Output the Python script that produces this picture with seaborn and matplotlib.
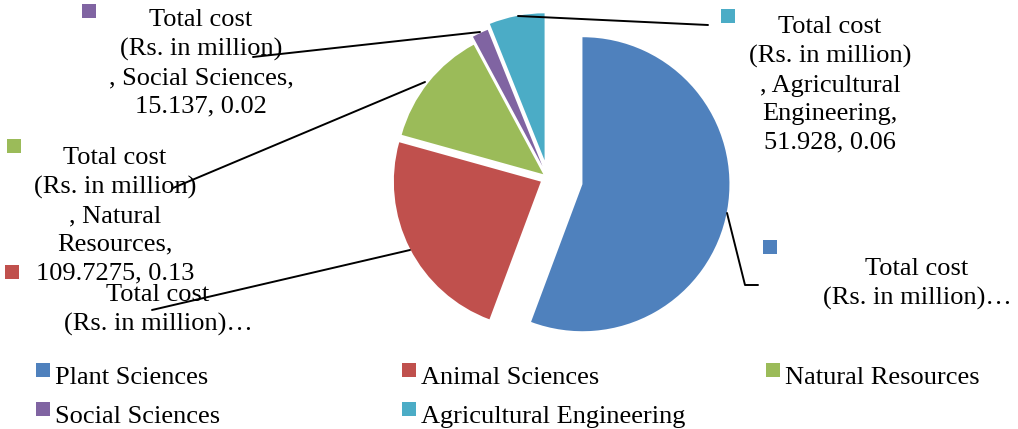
import textwrap

import matplotlib
matplotlib.use("Agg")
import matplotlib.pyplot as plt
from matplotlib.patches import Rectangle
import seaborn as sns

# Research cost by discipline
categories = ["Plant Sciences", "Animal Sciences", "Natural Resources",
              "Social Sciences", "Agricultural Engineering"]
total_cost = [476.0, 202.0, 109.7275, 15.137, 51.928]
series_title = ["Total cost", "(Rs. in million)"]
colors = ["#4F81BD", "#C0504D", "#9BBB59", "#8064A2", "#4BACC6"]
# which data labels are shown in full (the others are cut off)
full_label = [False, False, True, True, True]

W, H = 1018, 429
sns.set_theme(style="white")
plt.rcParams["font.family"] = ["Liberation Serif", "DejaVu Serif"]
FS = 19

fig = plt.figure(figsize=(W / 100, H / 100), dpi=100)
ax = fig.add_axes([0, 0, 1, 1])
palette = sns.color_palette(colors)


def py(y):
    # pixel row (from top) -> axes y
    return H - y


wedges, _ = ax.pie(total_cost, colors=palette, startangle=90, counterclock=False,
                   radius=147, center=(548, py(178)),
                   explode=[35, 8, 6, 13, 18],
                   wedgeprops=dict(linewidth=0))
ax.set_xlim(0, W)
ax.set_ylim(0, H)
ax.set_aspect("equal")
ax.axis("off")

# data labels with legend keys and leader lines
total = sum(total_cost)
label_pos = [(917, 284), (158, 310), (115, 215.5), (201, 63.5), (830, 85)]
key_pos = [(763, 240), (5, 265), (7, 139), (82, 4), (721, 9)]
leaders = [
    [(727, 213), (745, 285), (758, 285)],
    [(410, 250), (152, 310)],
    [(425, 82), (173, 188)],
    [(480, 32), (253, 57)],
    [(518, 16), (708, 25)],
]
KEY = 14
for i, name in enumerate(categories):
    if full_label[i]:
        name_part = textwrap.fill(f", {name},", 18)
        txt = "\n".join(series_title) + "\n" + name_part + \
            f"\n{total_cost[i]}, {total_cost[i] / total:.2f}"
    else:
        txt = "\n".join(series_title) + "\u2026"
    x, y = label_pos[i]
    ax.text(x, py(y), txt, ha="center", va="center", multialignment="center",
            fontsize=FS, linespacing=1.38, color="black")
    kx, ky = key_pos[i]
    ax.add_patch(Rectangle((kx, py(ky + KEY)), KEY, KEY, color=palette[i], lw=0))
    xs = [p[0] for p in leaders[i]]
    ys = [py(p[1]) for p in leaders[i]]
    ax.plot(xs, ys, color="black", lw=1.4, zorder=5)

# legend, three columns
col_x = [36, 402, 766]
row_top = [363, 402]
for i, name in enumerate(categories):
    c, r = i % 3, i // 3
    ax.add_patch(Rectangle((col_x[c], py(row_top[r] + KEY)), KEY, KEY,
                           color=palette[i], lw=0))
    ax.text(col_x[c] + 19, py(row_top[r] + 21), name, ha="left", va="baseline",
            fontsize=FS, color="black")

fig.savefig("out.png", dpi=100)
